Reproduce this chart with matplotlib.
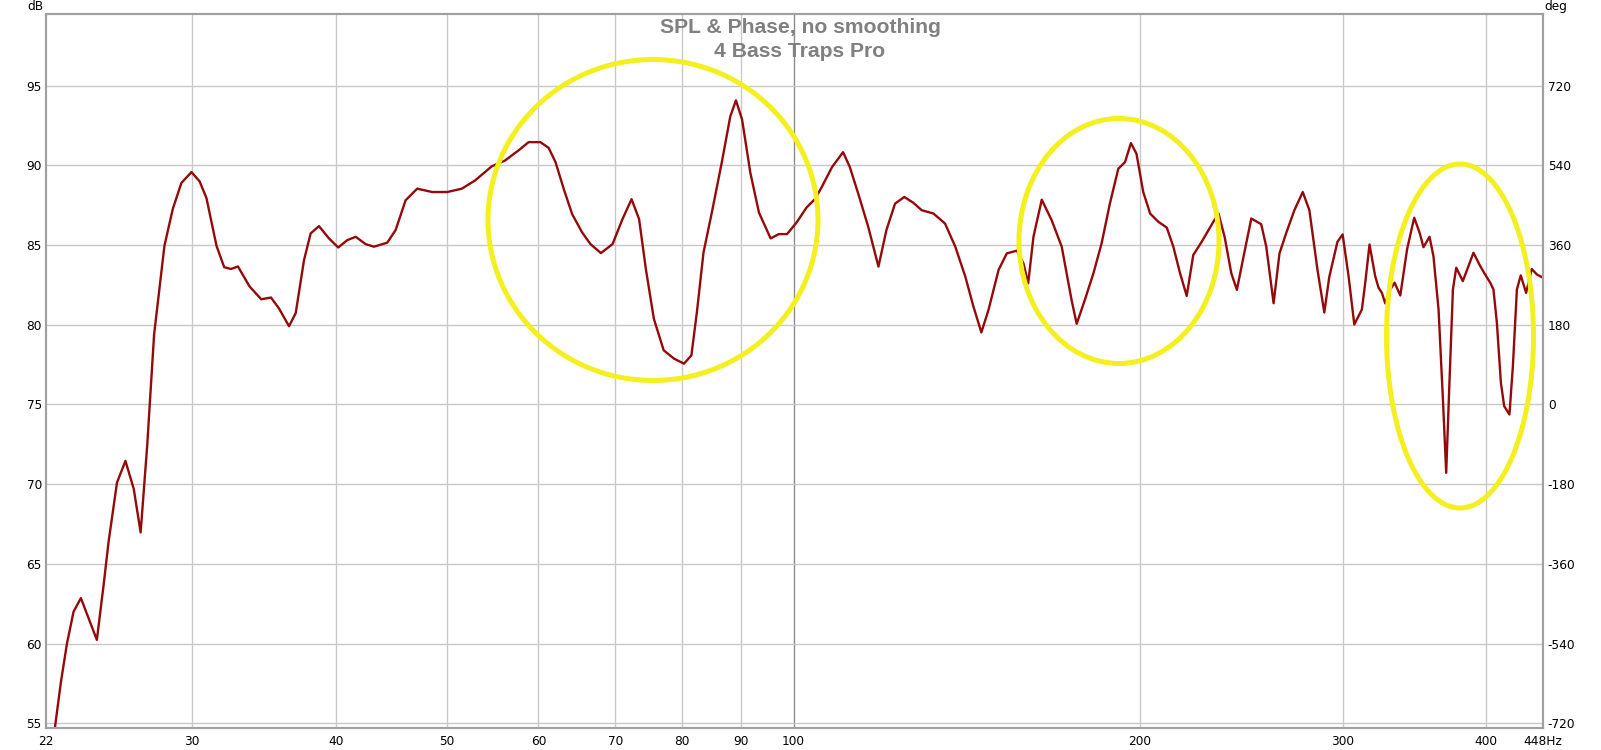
import matplotlib.pyplot as plt
from matplotlib.patches import Ellipse

plt.rcParams["axes.unicode_minus"] = False

freq_hz = [22.75, 22.82, 23.08, 23.36, 23.67, 24.02, 24.39, 24.80, 25.14, 25.39,
           25.82, 26.26, 26.70, 27.07, 27.43, 27.81, 28.39, 28.87, 29.37, 29.97,
           30.46, 30.88, 31.51, 32.0, 32.44, 32.89, 33.66, 34.46, 35.14, 35.71,
           36.43, 36.92, 37.54, 38.04, 38.68, 39.46, 40.2, 40.93, 41.63, 42.47,
           43.18, 44.34, 45.09, 46.0, 47.08, 48.52, 50.0, 51.48, 52.87, 54.65,
           56.14, 57.66, 58.84, 60.24, 61.25, 62.1, 63.14, 64.2, 65.5, 66.6,
           68.0, 69.6, 71.0, 72.3, 73.4, 74.4, 75.6, 77.1, 78.7, 80.3,
           81.5, 82.4, 83.5, 84.9, 86.6, 88.1, 89.1, 90.2, 91.7, 93.3,
           95.5, 97.1, 98.7, 100.6, 102.6, 104.4, 105.8, 108.0, 110.4, 111.9,
           113.8, 116.1, 118.5, 120.4, 122.5, 124.8, 127.1, 129.2, 132.3, 135.4,
           138.2, 141.0, 143.3, 145.6, 147.7, 150.7, 153.2, 156.3, 158.4, 159.9,
           161.6, 164.3, 167.6, 171.0, 172.7, 174.4, 176.2, 179.1, 182.2, 185.2,
           188.3, 191.5, 194.1, 196.4, 198.6, 201.3, 204.1, 207.5, 211.0, 213.8,
           216.7, 219.6, 222.5, 226.3, 231.6, 234.0, 236.9, 240.1, 242.8, 245.7,
           249.9, 254.9, 257.5, 261.3, 264.4, 267.9, 272.4, 277.0, 280.7, 285.3,
           289.2, 292.1, 296.9, 300.0, 303.6, 307.1, 311.8, 313.9, 316.6, 320.2,
           322.4, 324.5, 326.7, 330.0, 332.9, 336.7, 341.3, 346.2, 350.0, 352.7,
           357.0, 359.8, 363.5, 366.7, 369.1, 371.5, 374.1, 376.6, 381.6, 385.9,
           389.8, 394.4, 398.2, 403.1, 405.7, 408.5, 411.8, 414.5, 418.9, 421.8,
           425.2, 428.5, 433.1, 438.0, 442.5, 448.0]
spl_db = [54.0, 54.9, 57.6, 60.0, 62.0, 62.85, 61.6, 60.23, 63.7, 66.4,
          70.1, 71.46, 69.7, 66.97, 72.45, 79.4, 84.95, 87.27, 88.9, 89.58,
          89.0, 87.96, 84.95, 83.61, 83.5, 83.66, 82.41, 81.6, 81.71, 81.02,
          79.91, 80.73, 84.06, 85.73, 86.19, 85.42, 84.85, 85.31, 85.52, 85.06,
          84.9, 85.15, 85.94, 87.81, 88.54, 88.33, 88.33, 88.54, 89.06, 89.94,
          90.31, 90.94, 91.46, 91.46, 91.1, 90.2, 88.5, 86.94, 85.79, 85.06,
          84.5, 85.06, 86.63, 87.88, 86.63, 83.5, 80.38, 78.4, 77.88, 77.56,
          78.08, 80.79, 84.54, 87.04, 90.17, 93.08, 94.08, 92.88, 89.54, 87.04,
          85.42, 85.69, 85.69, 86.42, 87.35, 87.9, 88.65, 89.9, 90.83, 89.9,
          88.23, 86.15, 83.65, 85.94, 87.6, 88.02, 87.65, 87.19, 86.98, 86.35,
          84.9, 83.02, 81.15, 79.52, 80.94, 83.44, 84.48, 84.65, 83.85, 82.6,
          85.52, 87.85, 86.56, 84.9, 83.23, 81.56, 80.06, 81.56, 83.23, 85.1,
          87.6, 89.79, 90.21, 91.4, 90.73, 88.33, 86.98, 86.46, 86.1, 84.9,
          83.23, 81.81, 84.38, 85.21, 86.46, 86.98, 85.52, 83.23, 82.19, 84.06,
          86.67, 86.31, 84.9, 81.35, 84.48, 85.73, 87.19, 88.33, 87.19, 83.44,
          80.77, 83.0, 85.2, 85.67, 83.05, 80.02, 80.96, 82.64, 85.04, 83.05,
          82.32, 82.01, 81.34, 82.22, 82.64, 81.84, 84.73, 86.72, 85.77, 84.87,
          85.52, 84.31, 80.96, 75.31, 70.71, 76.36, 82.22, 83.58, 82.74, 83.68,
          84.52, 83.79, 83.26, 82.64, 82.22, 80.13, 76.36, 74.9, 74.37, 77.41,
          82.22, 83.1, 82.0, 83.5, 83.16, 82.95]

x_ticks = [22.4, 30, 40, 50, 60, 70, 80, 90, 100, 200, 300, 400, 448]
x_labels = ["22", "30", "40", "50", "60", "70", "80", "90", "100", "200", "300", "400", "448Hz"]
x_grid = [30, 40, 50, 60, 70, 80, 90, 200, 300, 400]
db_ticks = [55, 60, 65, 70, 75, 80, 85, 90, 95]
deg_ticks = [-720, -540, -360, -180, 0, 180, 360, 540, 720]

W, H = 1601, 750
fig = plt.figure(figsize=(W / 100, H / 100), dpi=100)
ax = fig.add_axes([46 / W, 1 - 728 / H, (1543 - 46) / W, (728 - 14) / H])

for f in x_grid:
    ax.axvline(f, color="#c8c8c8", lw=1, zorder=0)
ax.axvline(100, color="#8c8c8c", lw=1, zorder=0)
for d in db_ticks:
    ax.axhline(d, color="#c8c8c8", lw=1, zorder=0)

ax.plot(freq_hz, spl_db, color="#940a0a", lw=1.7, solid_joinstyle="round", zorder=3)

ax.set_xscale("log")
ax.set_xlim(22.4, 448)
ax.set_ylim(54.7, 99.5)
ax.set_xticks(x_ticks)
ax.set_xticklabels(x_labels)
ax.minorticks_off()
ax.set_yticks(db_ticks)
ax.tick_params(axis="both", length=0, labelsize=8.7, colors="#000000")
ax.tick_params(axis="x", pad=5)
ax.tick_params(axis="y", pad=3)

# phase axis on the right (0 deg at 75 dB, 180 deg per 5 dB)
ax2 = ax.twinx()
ax2.set_ylim((54.7 - 75) * 36, (99.5 - 75) * 36)
ax2.set_yticks(deg_ticks)
ax2.tick_params(axis="y", length=0, labelsize=8.7, pad=3.5)

for a in (ax, ax2):
    for s in a.spines.values():
        s.set_color("#a0a0a0")
        s.set_linewidth(1.5)

fig.text(35 / W, 1.0, "dB", ha="center", va="top", fontsize=8.7)
fig.text(1556 / W, 1.0, "deg", ha="center", va="top", fontsize=8.7)

fig.text(800 / W, 1 - 33 / H, "SPL & Phase, no smoothing", ha="center", va="baseline",
         fontsize=15.2, fontweight="bold", color="#808080", family="Liberation Sans")
fig.text(800 / W, 1 - 57 / H, "4 Bass Traps Pro", ha="center", va="baseline",
         fontsize=15.2, fontweight="bold", color="#808080", family="Liberation Sans")

# yellow hand-drawn highlight rings
rings = [(653, 220, 330, 321), (1119, 241, 200, 245), (1460, 336, 147, 344)]
for cx, cy, w, h in rings:
    fig.add_artist(Ellipse((cx / W, 1 - cy / H), w / W, h / H, transform=fig.transFigure,
                           fill=False, edgecolor="#f4ef1f", lw=3.6, zorder=10))

fig.savefig("out.png", dpi=100, facecolor="white")
